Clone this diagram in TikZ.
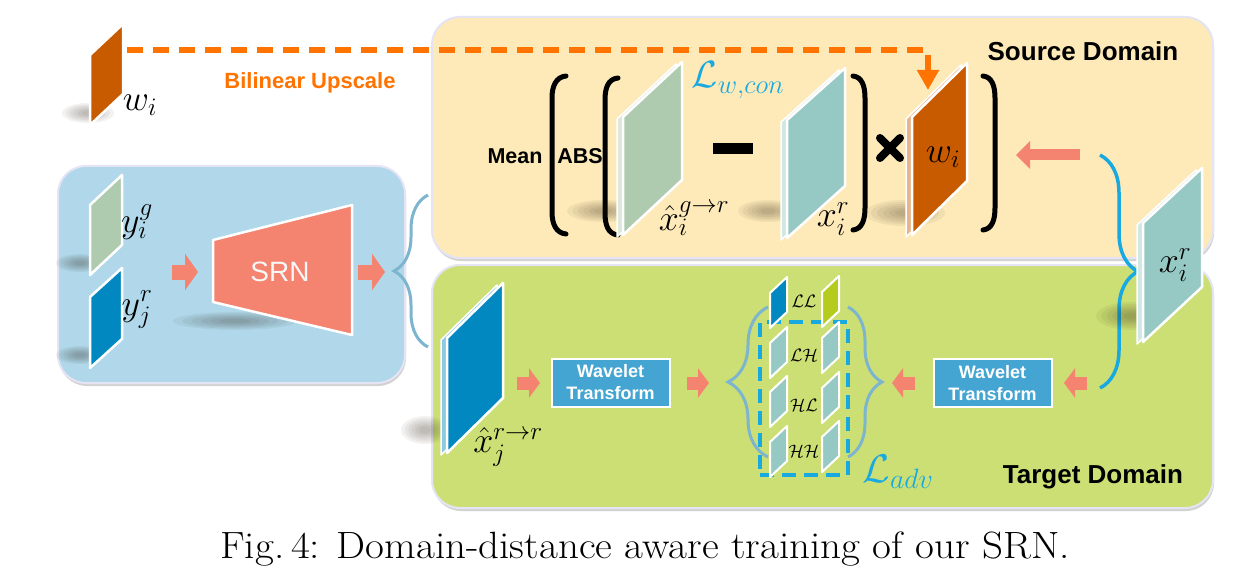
\documentclass[tikz,border=0pt]{standalone}
\usepackage{fontspec}
\DeclareFontShape{OML}{cmm}{m}{it}{<-7>cmmi5<7-10>cmmi7<10-12>cmmi10<12->cmmi12}{}
\DeclareFontShape{OMS}{cmsy}{m}{n}{<-7>cmsy5<7-10>cmsy7<10->cmsy10}{}
\DeclareFontShape{OT1}{cmr}{m}{n}{<-7>cmr5<7-10>cmr7<10-12>cmr10<12-17>cmr12<17->cmr17}{}
\newfontfamily\arial{Liberation Sans}
\usetikzlibrary{arrows.meta,decorations.pathreplacing,shadows}
\definecolor{srcfill}{HTML}{FDEAB8}
\definecolor{tgtfill}{HTML}{CCDF74}
\definecolor{inpfill}{HTML}{B0D8EA}
\definecolor{wor}{HTML}{C85A00}
\definecolor{dashor}{HTML}{FF7300}
\definecolor{gplane}{HTML}{AECBB0}
\definecolor{tplane}{HTML}{97C9C4}
\definecolor{bplane}{HTML}{0288C0}
\definecolor{salmon}{HTML}{F4836F}
\definecolor{wavebox}{HTML}{45A5D2}
\definecolor{cyanb}{HTML}{18A9E1}
\definecolor{steelb}{HTML}{7DB5CE}
\definecolor{llgreen}{HTML}{B5CB1E}
\definecolor{boxedge}{HTML}{E4E4F4}
% plane: color, xLeft, yTopLeft, width, skew, height
\newcommand\myplane[6]{\filldraw[fill=#1, draw=white, line width=2.5pt, line join=round] (#2,#3) -- ++(#4,-#5) -- ++(0,#6) -- ++(-#4,#5) -- cycle;}
\newcommand\myslab[6]{\filldraw[fill=white!55!#1, draw=white, line width=1.5pt, line join=round] (#2-6,#3+2) -- ++(#4,-#5) -- ++(0,#6) -- ++(-#4,#5) -- cycle;
  \myplane{#1}{#2}{#3}{#4}{#5}{#6}}
\newcommand\mypatch[3]{\filldraw[fill=#3, draw=white, line width=2pt, line join=round] (#1,#2) -- ++(17,-16) -- ++(0,35) -- ++(-17,16) -- cycle;}
\newcommand\myshadow[4]{\foreach \s in {1,0.85,0.7,0.55,0.4,0.25}{\fill[black!80!brown, opacity=0.055] (#1,#2) ellipse ({#3*\s} and {#4*\s});}}
\begin{document}
\begin{tikzpicture}[x=1pt,y=-1pt,
  domainbox/.style={rounded corners=28pt, draw=boxedge, line width=2pt, drop shadow={shadow xshift=1pt,shadow yshift=-3pt,opacity=0.35}},
  blkbig/.style={draw=salmon, line width=15pt, -{Triangle[length=13pt,width=36pt]}},
  blksmall/.style={draw=salmon, line width=13pt, -{Triangle[length=11pt,width=29pt]}},
  blklong/.style={draw=salmon, line width=11pt, -{Triangle[length=14pt,width=27pt]}},
  sanslabel/.style={font=\arial\bfseries\fontsize{#1}{#1}\selectfont, inner sep=0pt},
  mathlabel/.style={font=\fontsize{#1}{#1}\selectfont, inner sep=0pt},
  wavelet/.style={fill=wavebox, draw=white, line width=2pt, minimum width=118pt, minimum height=48pt, inner sep=0pt, text=white, align=center, font=\arial\bfseries\fontsize{18}{22}\selectfont},
  bracedeco/.style={decorate, decoration={brace, amplitude=#1}, line width=3pt},
  paren/.style={line width=5pt, line cap=round},
]
\useasboundingbox (0,0) rectangle (1253,580);
\fill[white] (0,0) rectangle (1253,580);

% domain boxes
\node[domainbox, fill=inpfill, minimum width=347pt, minimum height=217pt] (inp) at (231.5,274.5) {};
\node[domainbox, fill=srcfill, minimum width=781pt, minimum height=241pt] (src) at (822.5,137.5) {};
\node[domainbox, fill=tgtfill, minimum width=781pt, minimum height=243pt] (tgt) at (822.5,386.5) {};

% ---------- top-left weight map ----------
\myshadow{88}{113}{26}{10}
\myplane{wor}{90}{55}{33}{31}{70}
\node[mathlabel=36] (wtop) at (140,105) {$w_i$};
\coordinate (dstart) at (127,50);
\coordinate (dend) at (928,90);
\draw[dashor, line width=6pt, dash pattern=on 16pt off 10pt, -{Triangle[length=20pt,width=21pt]}] (dstart) -| (dend);
\node[sanslabel=22, text=dashor] (bil) at (310,83) {Bilinear Upscale};

% ---------- input box ----------
\myshadow{80}{263}{24}{9}
\myshadow{80}{355}{24}{9}
\myshadow{235}{321}{62}{9}
\myplane{gplane}{90}{205}{32}{30}{70}
\myplane{bplane}{90}{297}{32}{29}{71}
\node[mathlabel=36] (yg) at (137,222) {$y_i^g$};
\node[mathlabel=36] (yr) at (137,310) {$y_j^r$};
\filldraw[fill=salmon, draw=white, line width=2.5pt, line join=round] (213,240) -- (352,205) -- (352,335) -- (213,302) -- cycle;
\node[font=\arial\fontsize{28}{28}\selectfont, text=white!94!gray, inner sep=0pt] (srn) at (280,272) {SRN};
\coordinate (a1s) at (172,272); \coordinate (a1e) at (198,272);
\coordinate (a2s) at (358,272); \coordinate (a2e) at (385,272);
\draw[blkbig] (a1s) -- (a1e);
\draw[blkbig] (a2s) -- (a2e);
\coordinate (b1top) at (428,195); \coordinate (b1bot) at (428,347);
\draw[steelb, bracedeco=34pt] (b1bot) -- (b1top);

% ---------- source domain ----------
\node[sanslabel=26] (srct) at (1083,51) {Source Domain};
\node[sanslabel=21.5] (mean) at (515,156) {Mean};
\node[sanslabel=21.5] (abs) at (580,156) {ABS};
\draw[paren] (566,76) .. controls (556,77) and (552,86) .. (552,98) -- (552,212) .. controls (552,224) and (556,233) .. (566,234);
\draw[paren] (618,78) .. controls (608,79) and (605,88) .. (605,100) -- (605,213) .. controls (605,225) and (608,234) .. (618,235);
\draw[paren] (853,76) .. controls (862,77) and (865,86) .. (865,98) -- (865,208) .. controls (865,220) and (862,229) .. (853,230);
\draw[paren] (983,76) .. controls (992,77) and (995,86) .. (995,98) -- (995,208) .. controls (995,220) and (992,229) .. (983,230);
\myshadow{603}{211}{36}{11}
\myshadow{768}{211}{30}{11}
\myshadow{905}{213}{40}{13}
\myslab{gplane}{623}{117}{59}{55}{118}
\myslab{tplane}{787}{120}{58}{52}{118}
\myslab{wor}{912}{117}{55}{54}{118}
\fill (713,143) rectangle (753,154);
\draw[line width=8pt, line cap=round] (880,138) -- (900,158) (900,138) -- (880,158);
\node[mathlabel=38, text=cyanb] (lwcon) at (738,80) {$\mathcal{L}_{w,con}$};
\node[mathlabel=36] (xg) at (694,219) {$\hat{x}_i^{g\rightarrow r}$};
\node[mathlabel=36] (xr1) at (833,219) {$x_i^r$};
\node[mathlabel=36] (wsrc) at (943,157) {$w_i$};
\coordinate (a3s) at (1080,155); \coordinate (a3e) at (1016,155);
\draw[blklong] (a3s) -- (a3e);

% ---------- right input x_i^r ----------
\coordinate (b2top) at (1100,155); \coordinate (b2bot) at (1100,388);
\draw[cyanb, bracedeco=38pt, line width=3.5pt] (b2top) -- (b2bot);
\myshadow{1132}{316}{36}{14}
\myslab{tplane}{1143}{223}{59}{55}{119}
\node[mathlabel=36] (xr2) at (1175,265) {$x_i^r$};

% ---------- target domain ----------
\node[sanslabel=26] (tgtt) at (1093,477) {Target Domain};
\myshadow{425}{430}{24}{14}
\myslab{bplane}{447}{338}{56}{55}{115}
\node[mathlabel=36] (xrr) at (508,447) {$\hat{x}_j^{r\rightarrow r}$};
\node[wavelet] (wt1) at (610.5,382.5) {Wavelet\\Transform};
\node[wavelet] (wt2) at (992.5,383) {Wavelet\\Transform};
\coordinate (a4s) at (517,383); \coordinate (a4e) at (540,383);
\coordinate (a5s) at (687,383); \coordinate (a5e) at (709,383);
\coordinate (a6s) at (915,383); \coordinate (a6e) at (892,383);
\coordinate (a7s) at (1087,383); \coordinate (a7e) at (1064,383);
\draw[blksmall] (a4s) -- (a4e);
\draw[blksmall] (a5s) -- (a5e);
\draw[blksmall] (a6s) -- (a6e);
\draw[blksmall] (a7s) -- (a7e);
\coordinate (b3top) at (768,307); \coordinate (b3bot) at (768,457);
\draw[steelb, bracedeco=40pt] (b3bot) -- (b3top);
\coordinate (b4top) at (848,307); \coordinate (b4bot) at (848,457);
\draw[steelb, bracedeco=34pt] (b4top) -- (b4bot);
\node[draw=cyanb, line width=4pt, dash pattern=on 14pt off 8pt, minimum width=88pt, minimum height=153pt, inner sep=0pt] (advbox) at (804,398.5) {};
% wavelet sub-bands
\mypatch{770}{293}{bplane}
\mypatch{770}{343}{tplane}
\mypatch{770}{392}{tplane}
\mypatch{770}{442}{tplane}
\mypatch{822}{292}{llgreen}
\mypatch{822}{338}{tplane}
\mypatch{822}{388}{tplane}
\mypatch{822}{437}{tplane}
\node[mathlabel=18] (ll) at (804,301) {$\mathcal{LL}$};
\node[mathlabel=18] (lh) at (804,355) {$\mathcal{LH}$};
\node[mathlabel=18] (hl) at (804,405) {$\mathcal{HL}$};
\node[mathlabel=18] (hh) at (804,451) {$\mathcal{HH}$};
\node[mathlabel=40, text=cyanb] (ladv) at (898,472) {$\mathcal{L}_{adv}$};

% caption
\node[font=\fontsize{38}{44}\selectfont, inner sep=0pt] (cap) at (645,549) {\scalebox{1.08}[1]{Fig.\,4: Domain-distance aware training of our SRN.}};
\end{tikzpicture}
\end{document}
